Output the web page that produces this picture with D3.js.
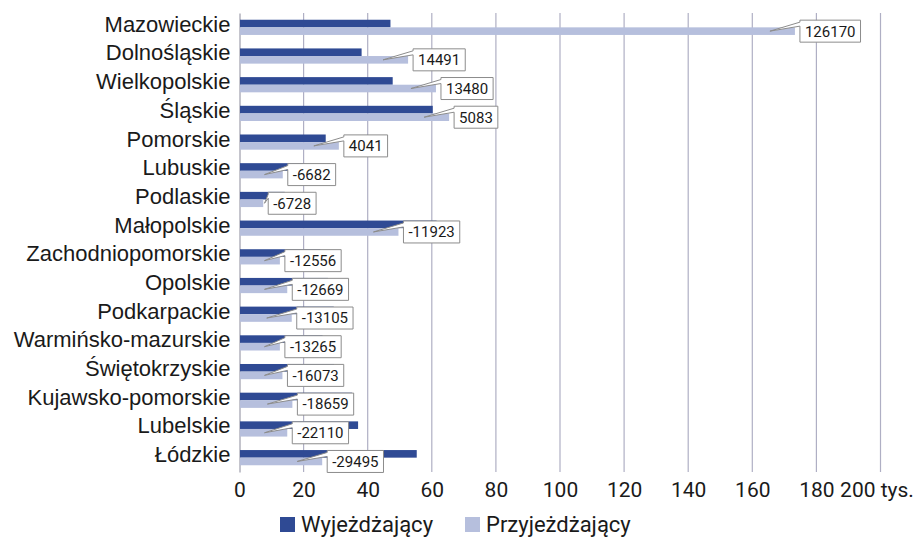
<!DOCTYPE html>
<html>
<head>
<meta charset="utf-8">
<script src="https://cdn.jsdelivr.net/npm/d3@7"></script>
<style>
  body { margin: 0; background: #fff; }
  svg { display: block; font-family: Roboto, "Noto Sans", sans-serif; }
</style>
</head>
<body>
<svg id="chart" width="916" height="539"></svg>
<script>
// województwa, od góry
const categories = [
  "Mazowieckie", "Dolnośląskie", "Wielkopolskie", "Śląskie", "Pomorskie",
  "Lubuskie", "Podlaskie", "Małopolskie", "Zachodniopomorskie", "Opolskie",
  "Podkarpackie", "Warmińsko-mazurskie", "Świętokrzyskie", "Kujawsko-pomorskie",
  "Lubelskie", "Łódzkie"
];
// tys. osób
const wyjezdzajacy = [47.1, 38.1, 47.8, 60.3, 26.9, 20.2, 14.1, 61.5, 25.2, 27.6, 29.4, 25.9, 29.5, 35.1, 37.0, 55.3];
const przyjezdzajacy = [173.3, 52.6, 61.3, 65.4, 31.0, 13.5, 7.4, 49.6, 12.6, 14.9, 16.3, 12.6, 13.4, 16.5, 14.9, 25.8];
// saldo (etykiety)
const saldo = [126170, 14491, 13480, 5083, 4041, -6682, -6728, -11923, -12556, -12669, -13105, -13265, -16073, -18659, -22110, -29495];
const xTicks = [0, 20, 40, 60, 80, 100, 120, 140, 160, 180, 200];
const seriesNames = ["Wyjeżdżający", "Przyjeżdżający"];

const colors = {dark: "#2f4a94", light: "#b6bfdd", grid: "#afafc4", axis: "#8a8a9a"};

const margin = {top: 13, right: 35, bottom: 67, left: 239.5};
const W = 916, H = 539;
const width = W - margin.left - margin.right;
const height = H - margin.top - margin.bottom;

const svg = d3.select("#chart");
const g = svg.append("g").attr("transform", `translate(${margin.left},${margin.top})`);

const x = d3.scaleLinear().domain([0, 200]).range([0, 641]);
const y = d3.scaleBand().domain(categories).range([0, height]);
const barH = 7.6;

// siatka
g.append("g")
  .selectAll("line")
  .data(xTicks.filter((d) => d > 0))
  .join("line")
  .attr("x1", (d) => x(d))
  .attr("x2", (d) => x(d))
  .attr("y1", 0)
  .attr("y2", height)
  .attr("stroke", colors.grid)
  .attr("stroke-width", 1.2);

// oś X (tylko etykiety)
const xAxis = g.append("g")
  .attr("transform", `translate(0,${height})`)
  .call(d3.axisBottom(x).tickValues(xTicks).tickSize(0).tickPadding(10)
    .tickFormat((d) => (d === 200 ? "200 tys." : d)));
xAxis.select(".domain").remove();
xAxis.selectAll("text")
  .attr("font-size", 21)
  .attr("fill", "#1a1a1a")
  .attr("font-family", "Roboto")
  .attr("dx", (d) => (d === 200 ? -4 : 0));

// oś Y
const yAxis = g.append("g")
  .call(d3.axisLeft(y).tickSize(0).tickPadding(9));
yAxis.select(".domain").attr("stroke", colors.axis);
yAxis.selectAll("text")
  .attr("font-size", 22)
  .attr("fill", "#1a1a1a")
  .attr("dy", "0.2em");

// słupki
const rows = categories.map((c, i) => ({
  name: c,
  out: wyjezdzajacy[i],
  inn: przyjezdzajacy[i],
  net: saldo[i],
}));

g.append("g")
  .selectAll("rect")
  .data(rows)
  .join("rect")
  .attr("x", 0.5)
  .attr("y", (d) => y(d.name) + y.bandwidth() / 2 - barH)
  .attr("width", (d) => x(d.out) - 0.5)
  .attr("height", barH)
  .attr("fill", colors.dark);

g.append("g")
  .selectAll("rect")
  .data(rows)
  .join("rect")
  .attr("x", 0.5)
  .attr("y", (d) => y(d.name) + y.bandwidth() / 2)
  .attr("width", (d) => x(d.inn) - 0.5)
  .attr("height", barH)
  .attr("fill", colors.light);

// objaśnienia z saldem
const boxH = 22;
const labels = g.append("g")
  .selectAll("g")
  .data(rows)
  .join("g")
  .attr("transform", (d) => {
    const bx = x(d.inn) + 5;
    const by = y(d.name) + y.bandwidth() / 2 + barH / 2 - boxH / 2;
    return `translate(${bx},${by})`;
  });

labels.append("text")
  .attr("x", 5)
  .attr("y", boxH / 2)
  .attr("dy", "0.36em")
  .attr("font-size", 15)
  .attr("fill", "#1a1a1a")
  .text((d) => d.net);

labels.each(function (d) {
  const sel = d3.select(this);
  const tw = sel.select("text").node().getComputedTextLength();
  const bw = tw + 10;
  const bx = x(d.inn) + 5;
  const tipX = Math.max(x(d.inn) - 25, 25) - bx;
  const tipY = boxH / 2;
  const path = d3.path();
  path.moveTo(0, 0);
  path.lineTo(bw, 0);
  path.lineTo(bw, boxH);
  path.lineTo(0, boxH);
  path.lineTo(0, 6);
  path.lineTo(tipX, tipY);
  path.lineTo(0, 2);
  path.closePath();
  sel.insert("path", "text")
    .attr("d", path.toString())
    .attr("fill", "#fff")
    .attr("stroke", "#8c8c8c")
    .attr("stroke-width", 1);
});

// legenda
const legend = svg.append("g").attr("transform", "translate(280,532)");
const items = legend.selectAll("g")
  .data(seriesNames)
  .join("g")
  .attr("transform", (d, i) => `translate(${i * 185},0)`);
items.append("rect")
  .attr("x", 0)
  .attr("y", -15)
  .attr("width", 15)
  .attr("height", 15)
  .attr("fill", (d, i) => (i === 0 ? colors.dark : colors.light));
items.append("text")
  .attr("x", 21)
  .attr("y", 0)
  .attr("font-size", 22)
  .attr("fill", "#1a1a1a")
  .text((d) => d);
</script>
</body>
</html>
